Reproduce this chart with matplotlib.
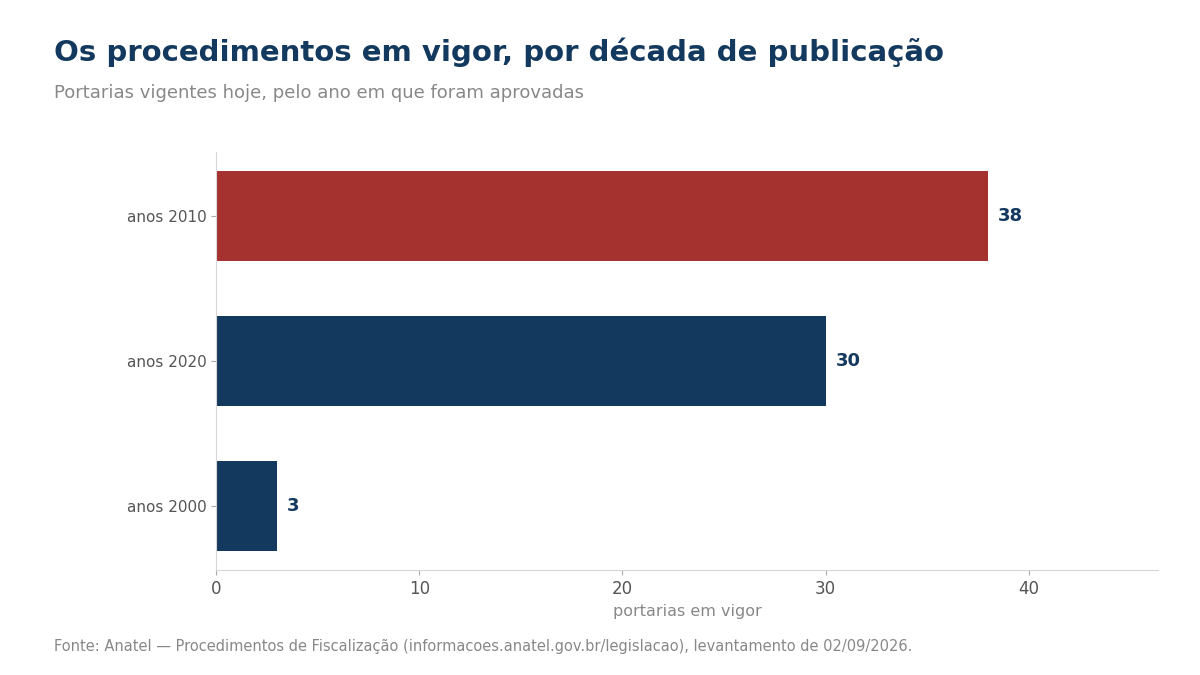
import matplotlib.pyplot as plt

decadas = ['anos 2000', 'anos 2020', 'anos 2010']
portarias = [3, 30, 38]
cores = ['#14395e', '#14395e', '#a63230']

fig = plt.figure(figsize=(12, 6.75), dpi=100)
ax = fig.add_axes([0.18, 0.155, 0.785, 0.62])

bars = ax.barh(decadas, portarias, height=0.62, color=cores)
ax.set_xlim(0, max(portarias) * 1.22)

for b, v in zip(bars, portarias):
    ax.text(b.get_width() + 0.48, b.get_y() + b.get_height() / 2, str(v),
            va='center', ha='left', fontsize=13, fontweight='bold', color='#14395e')

for s in ['top', 'right']:
    ax.spines[s].set_visible(False)
for s in ['left', 'bottom']:
    ax.spines[s].set_color('#d6d6d6')
ax.tick_params(axis='y', labelsize=11, colors='#555555')
ax.tick_params(axis='x', labelsize=12, colors='#555555')
ax.tick_params(axis='both', color='#aaaaaa')
ax.set_xlabel('portarias em vigor', fontsize=11.5, color='#888888', labelpad=4)

fig.text(0.045, 0.923, 'Os procedimentos em vigor, por década de publicação',
         fontsize=21, fontweight='bold', color='#14395e', va='center')
fig.text(0.045, 0.862, 'Portarias vigentes hoje, pelo ano em que foram aprovadas',
         fontsize=13, color='#888888', va='center')
fig.text(0.045, 0.042, 'Fonte: Anatel — Procedimentos de Fiscalização (informacoes.anatel.gov.br/legislacao), levantamento de 02/09/2026.',
         fontsize=10.5, color='#888888', va='center')

fig.savefig('out.png', dpi=100)
